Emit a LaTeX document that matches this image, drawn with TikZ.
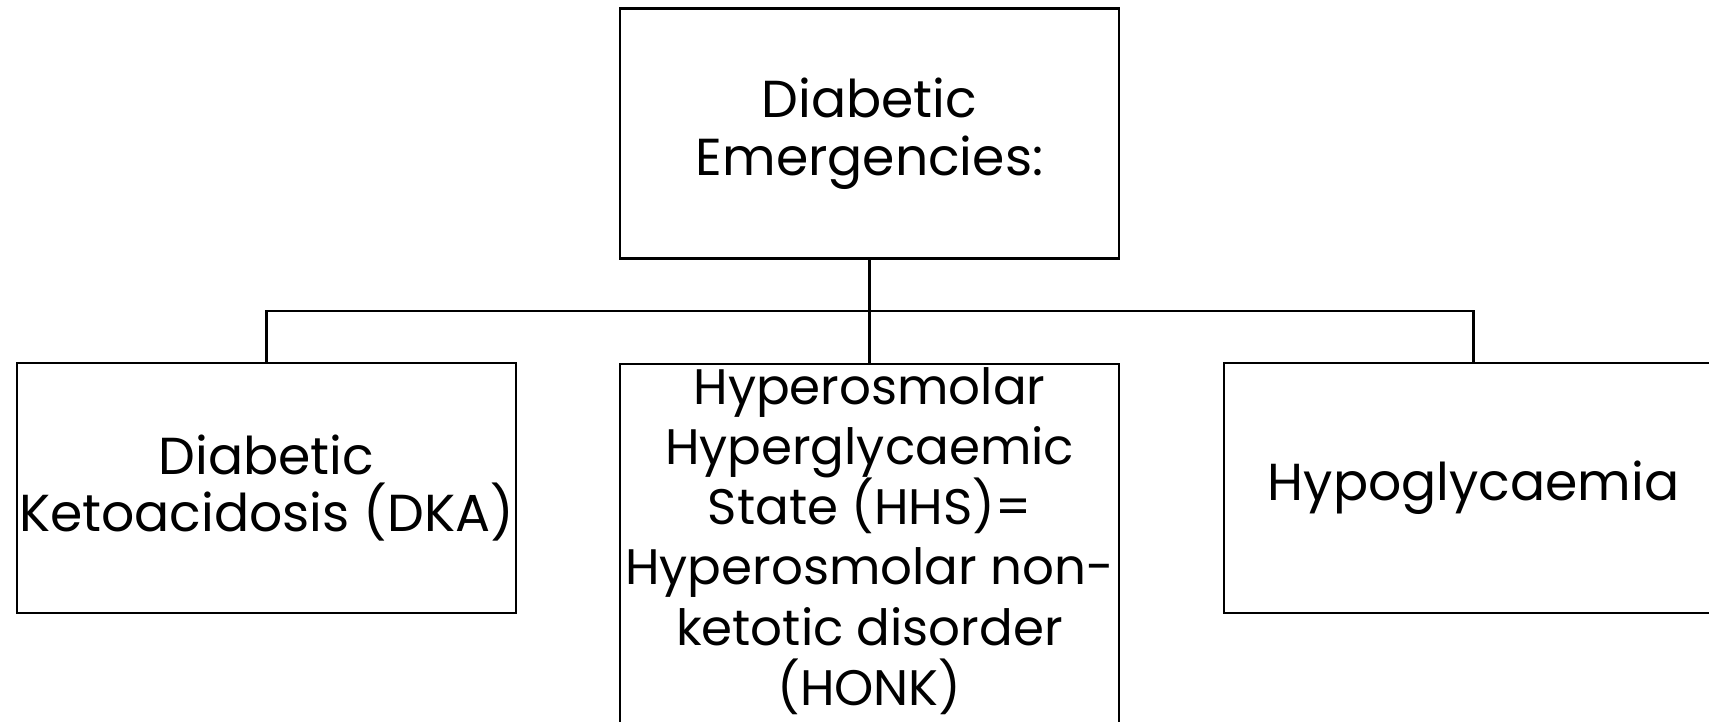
\documentclass[tikz,border=0pt]{standalone}
\usepackage{fontspec}
\setmainfont{Poppins}
\usetikzlibrary{positioning}

\begin{document}
\begin{tikzpicture}[x=1cm,y=1cm,line width=.7pt,
  box/.style={draw,inner sep=0pt,minimum width=4.99cm,minimum height=2.5cm,align=center,
    font=\fontsize{14.8}{16.4}\selectfont}]
  \useasboundingbox (0,0) rectangle (17.09,-7.21);
  \node[box] (top) at (8.695,-1.335) {Diabetic\\Emergencies:};
  \node[box] (dka) at (2.665,-4.88) {Diabetic\\Ketoacidosis (DKA)};
  \node[box,minimum height=0pt,inner ysep=1pt,anchor=north,font=\fontsize{14.2}{17.1}\selectfont] (hhs) at (8.695,-3.63)
    {Hyperosmolar\\Hyperglycaemic\\State (HHS)=\\Hyperosmolar non-\\ketotic disorder\\(HONK)\rule[-.6cm]{0pt}{0pt}};
  \node[box] (hypo) at (14.735,-4.88) {Hypoglycaemia};
  \coordinate (bar) at (0,-3.11);
  \draw (top.south) -- (hhs.north);
  \draw (dka.north) -- (dka.north |- bar) -- (hypo.north |- bar) -- (hypo.north);
\end{tikzpicture}
\end{document}
